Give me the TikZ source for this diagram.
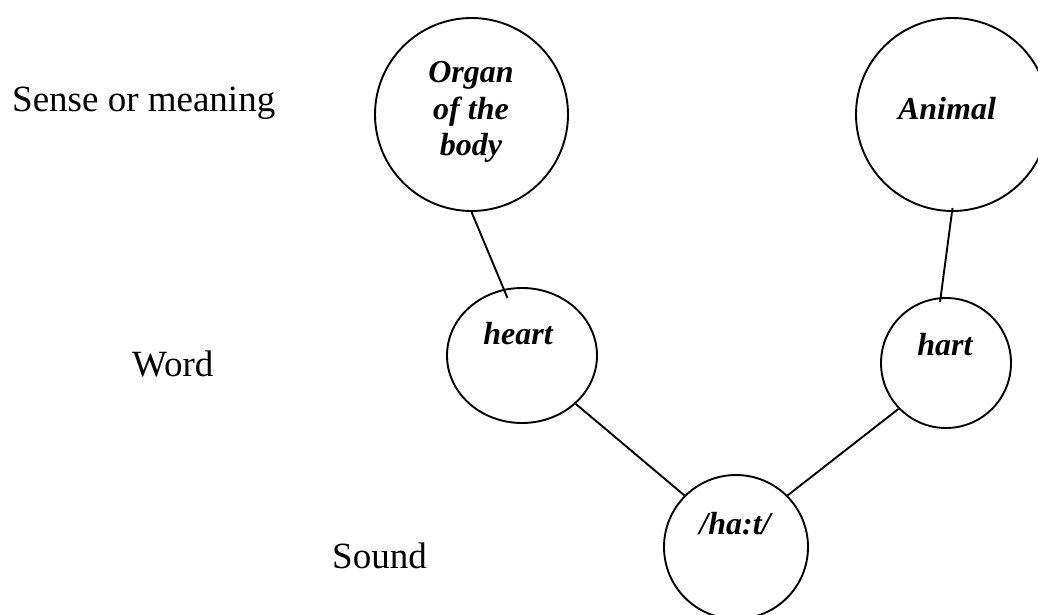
\documentclass[tikz,border=0pt]{standalone}
\usepackage{fontspec}
\setmainfont{Liberation Serif}
\usetikzlibrary{shapes.geometric}
\tikzset{
  ring/.style={draw, line width=1.9pt, circle, inner sep=0pt},
  oval/.style={draw, line width=1.9pt, ellipse, inner sep=0pt},
  link/.style={line width=1.9pt},
  level/.style={anchor=base west, inner sep=0pt, font=\fontsize{37}{44}\selectfont},
  term/.style={anchor=base, inner sep=0pt, font=\fontsize{32}{36}\selectfont\bfseries\itshape},
}
\begin{document}
\begin{tikzpicture}[x=1pt,y=-1pt]
  \useasboundingbox (0,0) rectangle (1038,615);
  \clip (0,0) rectangle (1038,615);

  % row labels
  \node[level] (lsense) at (12,112) {Sense or meaning};
  \node[level] (lword)  at (132,376) {Word};
  \node[level] (lsound) at (332,568) {Sound};

  % sense circles
  \node[ring, minimum size=193pt] (organ)  at (471.5,114.5) {};
  \node[ring, minimum size=193pt] (animal) at (952.5,114.5) {};
  \node[term] (organ1) at (471,83)  {Organ};
  \node[term] (organ2) at (471,120) {of the};
  \node[term] (organ3) at (471,155) {body};
  \node[term] (animalt) at (947,120) {Animal};

  % word circles
  \node[oval, minimum width=150pt, minimum height=135pt] (heart) at (522,355.5) {};
  \node[ring, minimum size=130pt] (hart) at (946,363) {};
  \node[term] (heartt) at (518,344) {heart};
  \node[term] (hartt)  at (945,355) {hart};

  % sound circle
  \node[ring, minimum size=144pt] (sound) at (736,547) {};
  \node[term] (soundt) at (735,534) {/ha:t/};

  % connectors
  \draw[link] (organ.south) -- ([xshift=-14.5pt,yshift=-11pt]heart.north);
  \draw[link] ([yshift=4pt]animal.south) -- ([xshift=-6pt,yshift=-5pt]hart.north);
  \draw[link] (heart.-42) -- (sound.135);
  \draw[link] (hart.-136) -- (sound.45);
\end{tikzpicture}
\end{document}
